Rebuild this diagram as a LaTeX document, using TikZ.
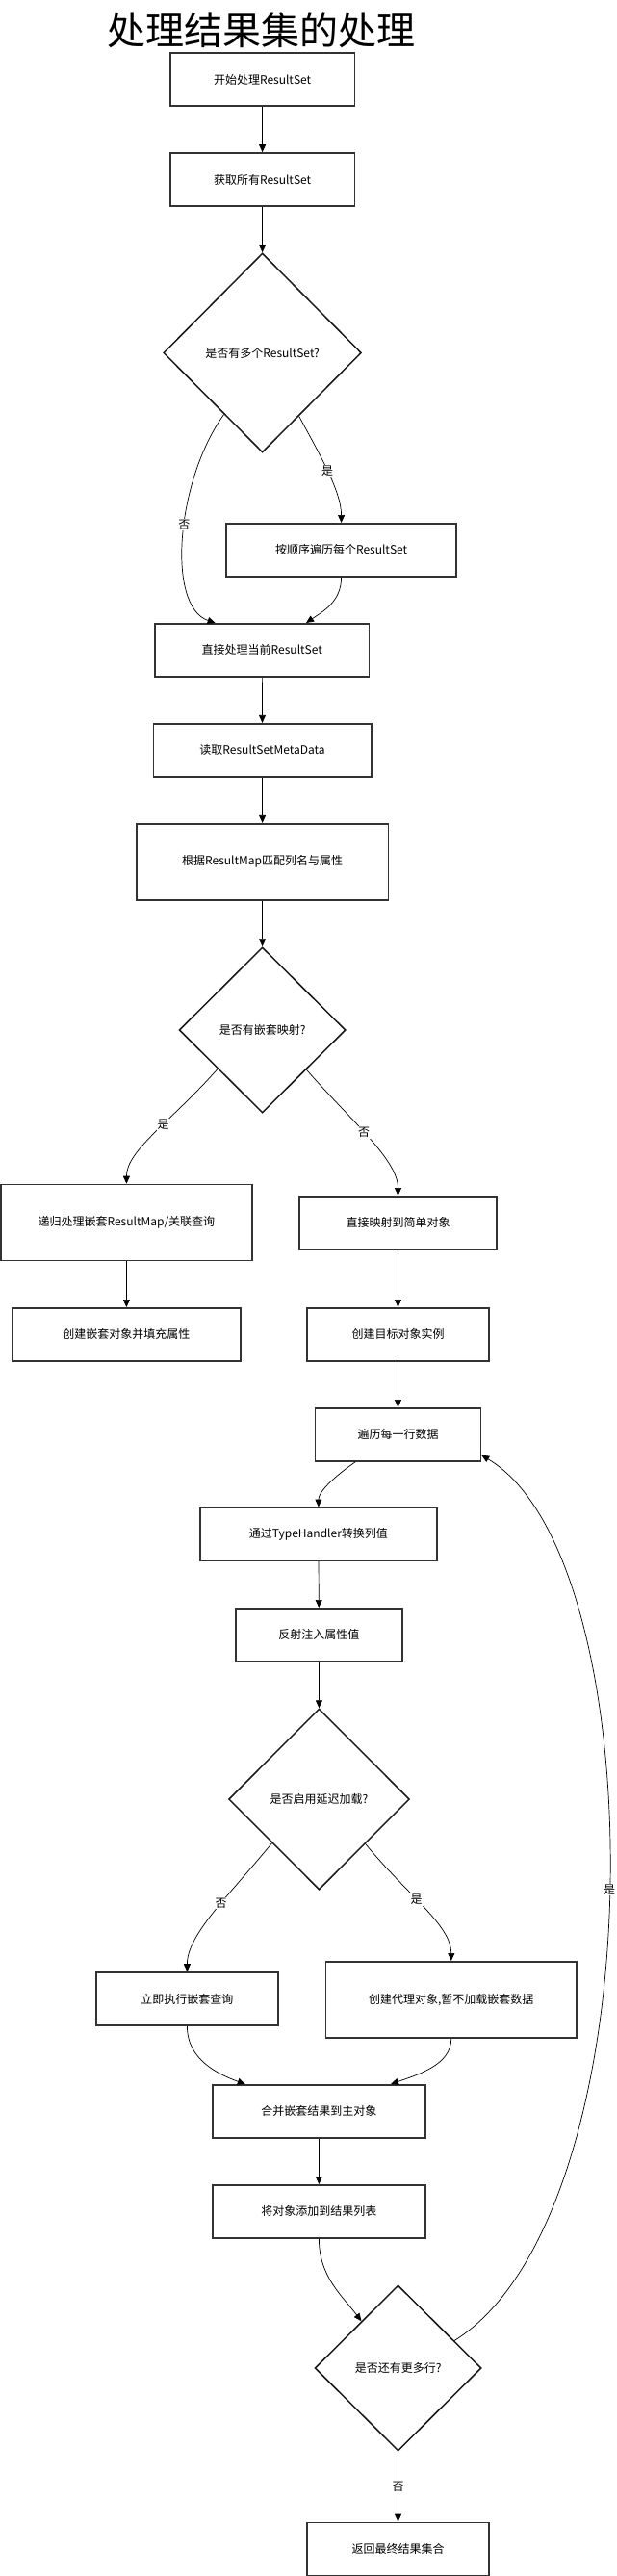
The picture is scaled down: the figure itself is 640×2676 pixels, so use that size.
\documentclass[tikz,border=0pt]{standalone}
\usepackage{fontspec}
\setmainfont{Noto Sans CJK SC}
\usetikzlibrary{shapes.geometric,arrows.meta,calc}
\definecolor{boxline}{HTML}{333333}
\definecolor{dialine}{HTML}{1A1A1A}
\begin{document}
\begin{tikzpicture}[x=1pt,y=-1pt,
 box/.style={draw=boxline,line width=1.6pt,fill=white,inner sep=0pt,font=\fontsize{12}{14}\selectfont},
 dia/.style={diamond,draw=dialine,line width=1.5pt,fill=white,inner sep=0pt,font=\fontsize{12}{14}\selectfont},
 arr/.style={-{Triangle[length=8pt,width=7pt]},line width=0.7pt},
 lab/.style={fill=white,inner sep=1pt,font=\fontsize{12}{14}\selectfont}]
\useasboundingbox (0,0) rectangle (640,2676);
\node[font=\fontsize{40}{46}\selectfont] (title) at (271.6,31) {处理结果集的处理};
\node[box,minimum width=191.6pt,minimum height=55pt] (b1) at (272.6,82.5) {开始处理ResultSet};
\node[box,minimum width=191.6pt,minimum height=55pt] (b2) at (272.6,186.5) {获取所有ResultSet};
\node[dia,minimum width=205.5pt,minimum height=207pt] (d1) at (272.6,366.5) {是否有多个ResultSet?};
\node[box,minimum width=239pt,minimum height=55pt] (b3) at (354.6,571.3) {按顺序遍历每个ResultSet};
\node[box,minimum width=222.2pt,minimum height=55pt] (b4) at (272.3,675.3) {直接处理当前ResultSet};
\node[box,minimum width=226.2pt,minimum height=55pt] (b5) at (272.6,779.2) {读取ResultSetMetaData};
\node[box,minimum width=261.8pt,minimum height=79pt] (b6) at (272.6,895.2) {根据ResultMap匹配列名与属性};
\node[dia,minimum width=172.9pt,minimum height=172pt] (d2) at (272.6,1070) {是否有嵌套映射?};
\node[box,minimum width=260.8pt,minimum height=79pt] (b7) at (131.4,1270) {递归处理嵌套ResultMap/关联查询};
\node[box,minimum width=204.5pt,minimum height=55pt] (b8) at (413.5,1270.3) {直接映射到简单对象};
\node[box,minimum width=237pt,minimum height=55pt] (b9) at (131.4,1386.3) {创建嵌套对象并填充属性};
\node[box,minimum width=188.7pt,minimum height=55pt] (b10) at (413.5,1386.3) {创建目标对象实例};
\node[box,minimum width=171.9pt,minimum height=55pt] (b11) at (413.5,1490.3) {遍历每一行数据};
\node[box,minimum width=246pt,minimum height=55pt] (b12) at (330.9,1593.8) {通过TypeHandler转换列值};
\node[box,minimum width=172.9pt,minimum height=55pt] (b13) at (331.4,1698.3) {反射注入属性值};
\node[dia,minimum width=187.7pt,minimum height=188pt] (d3) at (331.5,1869) {是否启用延迟加载?};
\node[box,minimum width=188.7pt,minimum height=55pt] (b14) at (194.4,2076.5) {立即执行嵌套查询};
\node[box,minimum width=260.8pt,minimum height=79pt] (b15) at (468.8,2077.3) {创建代理对象,暂不加载嵌套数据};
\node[box,minimum width=221.3pt,minimum height=55pt] (b16) at (331.4,2193.3) {合并嵌套结果到主对象};
\node[box,minimum width=221.3pt,minimum height=55pt] (b17) at (331.4,2297.3) {将对象添加到结果列表};
\node[dia,minimum width=172.9pt,minimum height=172pt] (d4) at (413.6,2460) {是否还有更多行?};
\node[box,minimum width=188.7pt,minimum height=55pt] (b18) at (413.5,2648) {返回最终结果集合};

\draw[arr] (b1) -- (b2);
\draw[arr] (b2) -- (d1);
\draw[arr] (d1.238.5) .. controls (182.7,500) and (172.9,630) .. ($(b4.north)+(-48.7,0)$) node[lab,pos=0.45]{否};
\draw[arr] (d1.300.5) .. controls (330.9,470) and (354.6,510) .. (b3.north) node[lab,pos=0.5]{是};
\draw[arr] (b3.south) .. controls (354.6,625) and (335.8,635) .. ($(b4.north)+(45.7,0)$);
\draw[arr] (b4) -- (b5);
\draw[arr] (b5) -- (b6);
\draw[arr] (b6) -- (d2);
\draw[arr] (d2.221) .. controls (177.8,1165) and (131.4,1195) .. (b7.north) node[lab,pos=0.42]{是};
\draw[arr] (d2.318) .. controls (365.5,1165) and (413.5,1205) .. (b8.north) node[lab,pos=0.45]{否};
\draw[arr] (b7) -- (b9);
\draw[arr] (b8) -- (b10);
\draw[arr] (b10) -- (b11);
\draw[arr] ($(b11.south)+(-44.1,0)$) .. controls (345.7,1535) and (330.9,1550) .. (b12.north);
\draw[arr] (b12) -- (b13);
\draw[arr] (b13) -- (d3);
\draw[arr] (d3.223) .. controls (237.1,1970) and (194.4,2010) .. (b14.north) node[lab,pos=0.42]{否};
\draw[arr] (d3.316) .. controls (424.7,1970) and (468.8,2000) .. (b15.north) node[lab,pos=0.42]{是};
\draw[arr] (b14.south) .. controls (194.4,2140) and (227.2,2155) .. ($(b16.north)+(-76.6,0)$);
\draw[arr] (b15.south) .. controls (468.8,2145) and (434.6,2155) .. ($(b16.north)+(74.6,0)$);
\draw[arr] (b16) -- (b17);
\draw[arr] (b17.south) .. controls (331.4,2365) and (355.6,2385) .. (d4.128.5);
\draw[arr] (d4.26.4) .. controls (682,2300) and (682,1620) .. ($(b11.east)+(0,21.4)$) node[lab,pos=0.5]{是};
\draw[arr] (d4) -- (b18) node[lab,pos=0.5]{否};
\end{tikzpicture}
\end{document}
